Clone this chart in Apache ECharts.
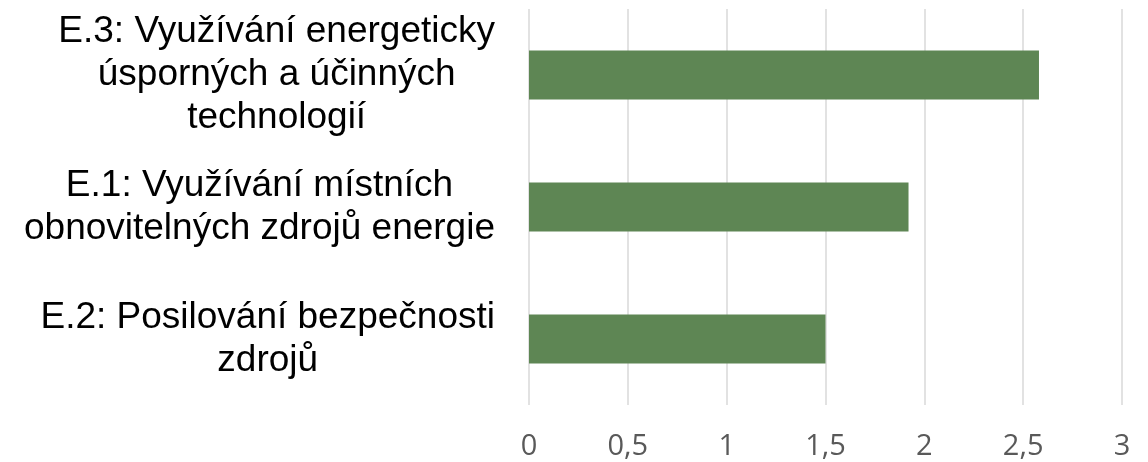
<!DOCTYPE html>
<html>
<head>
<meta charset="utf-8">
<script src="https://cdn.jsdelivr.net/npm/echarts@6/dist/echarts.min.js"></script>
<style>
  html, body { margin: 0; padding: 0; background: #fff; }
  #chart { width: 1148px; height: 462px; }
</style>
</head>
<body>
<div id="chart"></div>
<script>
// kategorie shora dolů
const categories = [
  'E.3: Využívání energeticky\núsporných a účinných\ntechnologií',
  'E.1: Využívání místních\nobnovitelných zdrojů energie',
  'E.2: Posilování bezpečnosti\nzdrojů'
];
const values = [2.58, 1.92, 1.5];
const xTicks = { min: 0, max: 3, interval: 0.5 };

const chart = echarts.init(document.getElementById('chart'));
chart.setOption({
  animation: false,
  grid: { left: 529, right: 26, top: 9, bottom: 57, containLabel: false },
  xAxis: {
    type: 'value',
    min: xTicks.min,
    max: xTicks.max,
    interval: xTicks.interval,
    axisLine: { show: false },
    axisTick: { show: false },
    splitLine: { lineStyle: { color: '#d9d9d9', width: 1.5 } },
    axisLabel: {
      color: '#595959',
      fontFamily: 'Open Sans',
      fontSize: 29,
      margin: 27,
      formatter: v => String(v).replace('.', ',')
    }
  },
  yAxis: {
    type: 'category',
    inverse: true,
    data: categories,
    axisLine: { show: false },
    axisTick: { show: false },
    axisLabel: {
      margin: 34,
      align: 'right',
      formatter: v => v.split('\n').map(s => '{c|' + s + '}').join('\n'),
      rich: {
        c: {
          align: 'center',
          color: '#000',
          fontFamily: 'Liberation Sans',
          fontSize: 37,
          lineHeight: 43
        }
      }
    }
  },
  series: [{
    type: 'bar',
    data: values,
    barWidth: 49,
    itemStyle: { color: '#5e8654' }
  }]
});
</script>
</body>
</html>
